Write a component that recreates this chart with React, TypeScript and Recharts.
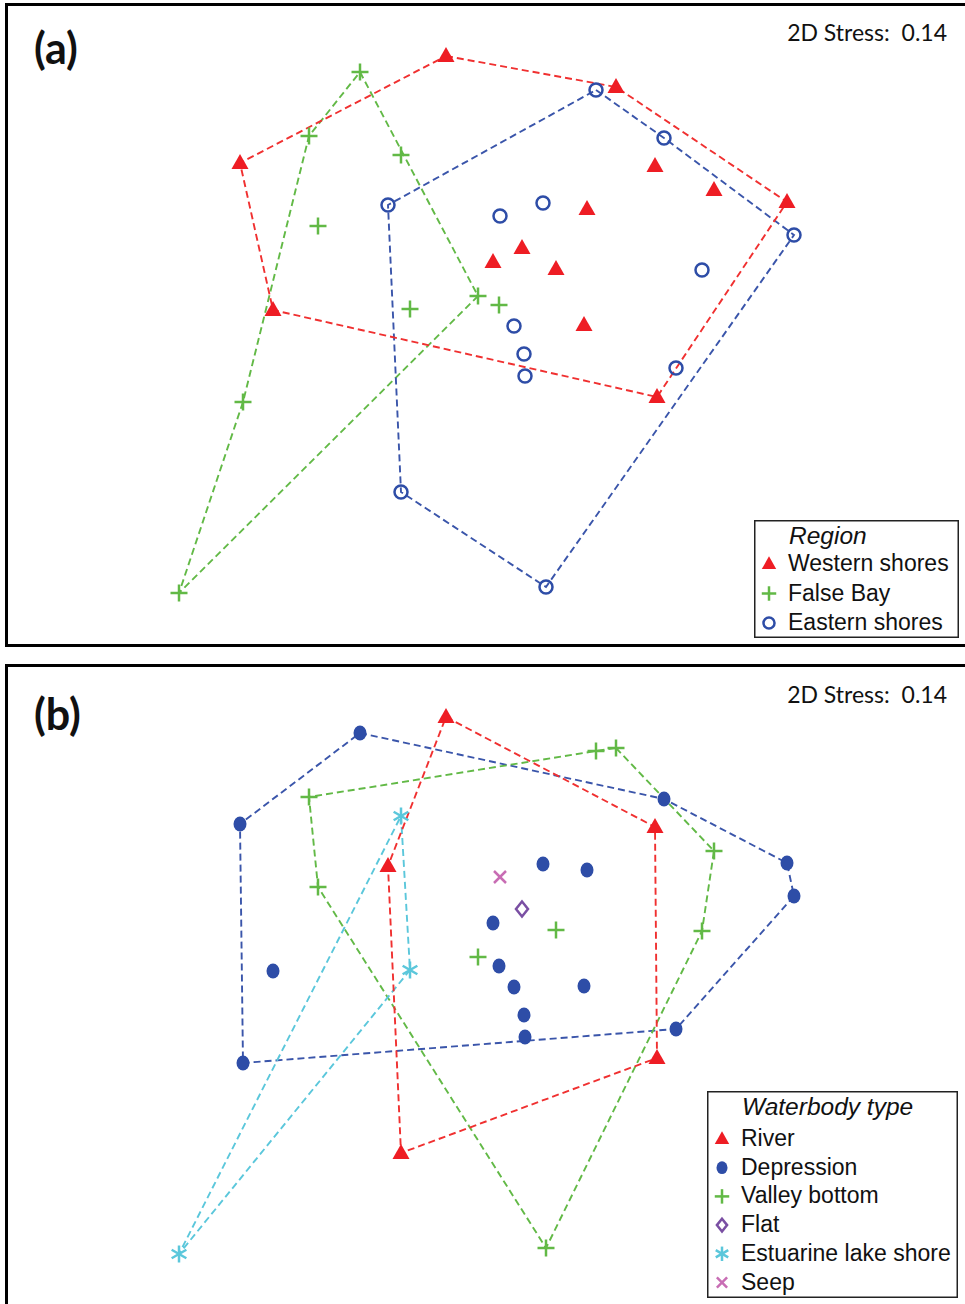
import React from 'react';
import { ScatterChart, Scatter, XAxis, YAxis, Legend } from 'recharts';

// NMDS coordinates of the 35 sites (shared by both panels)
const siteX = [
  -0.54, 1.16, -2.6, 2.87, 1.55, 2.14, 0.87, 0.22, -0.07, 0.56, -2.27, 0.84, 1.57,
  -1.4, -1.91, -0.99, -1.82, -0.22, -0.01, -0.9, -2.57, -3.21,
  0.96, 1.64, -1.12, 0.43, 0.0, 2.02, 2.94, 0.14, 0.24, 0.25, 1.76, -0.99, 0.46,
];
const siteY = [
  2.74, 2.43, 1.67, 1.28, 1.64, 1.4, 1.21, 0.82, 0.68, 0.61, 0.2, 0.05, -0.67,
  2.58, 1.94, 1.75, 1.04, 0.34, 0.25, 0.21, -0.72, -2.63,
  2.4, 1.92, 1.25, 1.27, 1.14, 0.6, 0.95, 0.04, -0.24, -0.46, -0.38, -1.62, -2.57,
];
const siteRegion = [
  'Western shores', 'Western shores', 'Western shores', 'Western shores', 'Western shores',
  'Western shores', 'Western shores', 'Western shores', 'Western shores', 'Western shores',
  'Western shores', 'Western shores', 'Western shores',
  'False Bay', 'False Bay', 'False Bay', 'False Bay', 'False Bay', 'False Bay', 'False Bay',
  'False Bay', 'False Bay',
  'Eastern shores', 'Eastern shores', 'Eastern shores', 'Eastern shores', 'Eastern shores',
  'Eastern shores', 'Eastern shores', 'Eastern shores', 'Eastern shores', 'Eastern shores',
  'Eastern shores', 'Eastern shores', 'Eastern shores',
];
const siteType = [
  'River', 'Valley bottom', 'Depression', 'Depression', 'River', 'Valley bottom', 'Depression',
  'Flat', 'Depression', 'Valley bottom', 'Depression', 'Depression', 'River',
  'Depression', 'Valley bottom', 'Estuarine lake shore', 'Valley bottom', 'Valley bottom',
  'Depression', 'Estuarine lake shore', 'Depression', 'Estuarine lake shore',
  'Valley bottom', 'Depression', 'River', 'Depression', 'Seep', 'Valley bottom', 'Depression',
  'Depression', 'Depression', 'Depression', 'Depression', 'River', 'Valley bottom',
];

const regionNames = ['Western shores', 'False Bay', 'Eastern shores'];
const typeNames = ['River', 'Depression', 'Valley bottom', 'Flat', 'Estuarine lake shore', 'Seep'];

// Hull outlines as site indices, in drawing order
const hullWestern = [0, 1, 3, 12, 10, 2];
const hullFalseBay = [13, 17, 21, 20, 14];
const hullEastern = [22, 23, 28, 34, 33, 24];
const hullRiver = [0, 4, 12, 33, 24];
const hullDepression = [13, 23, 3, 28, 32, 20, 2];
const hullValley = [1, 5, 27, 34, 16, 14, 22];
const hullEstuarine = [15, 19, 21];

const stressLabel = '2D Stress:  0.14';

// ---- styling ----
const RED = '#EE1D24';
const GREEN = '#62B946';
const BLUE = '#2E4DA7';
const CYAN = '#5BC7DB';
const PURPLE = '#7A4FA3';
const PINK = '#C86DB4';

const regionStyle: Record<string, { kind: string; color: string; line: string }> = {
  'Western shores': { kind: 'triangle', color: RED, line: '#F03030' },
  'False Bay': { kind: 'plus', color: GREEN, line: GREEN },
  'Eastern shores': { kind: 'circle', color: BLUE, line: '#3A55AA' },
};
const typeStyle: Record<string, { kind: string; color: string; line: string }> = {
  River: { kind: 'triangle', color: RED, line: '#F03030' },
  Depression: { kind: 'dot', color: BLUE, line: '#3A55AA' },
  'Valley bottom': { kind: 'plus', color: GREEN, line: GREEN },
  Flat: { kind: 'diamond', color: PURPLE, line: PURPLE },
  'Estuarine lake shore': { kind: 'asterisk', color: CYAN, line: CYAN },
  Seep: { kind: 'cross', color: PINK, line: PINK },
};

function Marker({ kind, cx, cy, color, s = 1 }: { kind: string; cx: number; cy: number; color: string; s?: number }) {
  const sw = 2.5;
  switch (kind) {
    case 'triangle':
      return (
        <polygon
          points={`${cx},${cy - 9 * s} ${cx - 8.5 * s},${cy + 6 * s} ${cx + 8.5 * s},${cy + 6 * s}`}
          fill={color}
        />
      );
    case 'plus':
      return (
        <g stroke={color} strokeWidth={sw}>
          <line x1={cx - 8.5 * s} y1={cy} x2={cx + 8.5 * s} y2={cy} />
          <line x1={cx} y1={cy - 8.5 * s} x2={cx} y2={cy + 8.5 * s} />
        </g>
      );
    case 'circle':
      return <circle cx={cx} cy={cy} r={6.5 * s} fill="none" stroke={color} strokeWidth={sw} />;
    case 'dot':
      return <ellipse cx={cx} cy={cy} rx={6.5 * s} ry={7.5 * s} fill={color} />;
    case 'diamond':
      return (
        <polygon
          points={`${cx},${cy - 7.5 * s} ${cx + 6 * s},${cy} ${cx},${cy + 7.5 * s} ${cx - 6 * s},${cy}`}
          fill="none"
          stroke={color}
          strokeWidth={sw}
        />
      );
    case 'asterisk': {
      const r = 8.5 * s;
      const dx = r * Math.cos(Math.PI / 6);
      const dy = r * Math.sin(Math.PI / 6);
      return (
        <g stroke={color} strokeWidth={sw}>
          <line x1={cx} y1={cy - r} x2={cx} y2={cy + r} />
          <line x1={cx - dx} y1={cy - dy} x2={cx + dx} y2={cy + dy} />
          <line x1={cx - dx} y1={cy + dy} x2={cx + dx} y2={cy - dy} />
        </g>
      );
    }
    case 'cross': {
      const r = 6 * s;
      return (
        <g stroke={color} strokeWidth={sw}>
          <line x1={cx - r} y1={cy - r} x2={cx + r} y2={cy + r} />
          <line x1={cx - r} y1={cy + r} x2={cx + r} y2={cy - r} />
        </g>
      );
    }
    default:
      return <g />;
  }
}

const pointsOf = (labels: string[], name: string) =>
  siteX.map((x, i) => ({ x, y: siteY[i], g: labels[i] })).filter((p) => p.g === name);
const hullPoints = (idx: number[]) =>
  [...idx, idx[0]].map((i) => ({ x: siteX[i], y: siteY[i] }));

const noShape = () => <g />;

function LegendBox({
  title, names, styles, width, height, firstBaseline, step,
}: {
  title: string; names: string[]; styles: Record<string, { kind: string; color: string }>;
  width: number; height: number; firstBaseline: number; step: number;
}) {
  return (
    <svg width={width} height={height} style={{ display: 'block', overflow: 'visible' }}>
      <rect x={0.75} y={0.75} width={width - 1.5} height={height - 1.5} fill="#fff" stroke="#222" strokeWidth={1.5} />
      <text x={35} y={24} fontFamily="Liberation Sans" fontStyle="italic" fontSize={24.5} fill="#111">
        {title}
      </text>
      {names.map((n, i) => {
        const base = firstBaseline + i * step;
        return (
          <g key={n}>
            <Marker kind={styles[n].kind} cx={15} cy={base - 7} color={styles[n].color} s={0.85} />
            <text x={34} y={base} fontFamily="Liberation Sans" fontSize={23} fill="#111">
              {n}
            </text>
          </g>
        );
      })}
    </svg>
  );
}

const X_DOMAIN: [number, number] = [-5, 4.65];

function Panel({
  top, height, yDomain, labels, names, styles, hulls, legend,
}: {
  top: number; height: number; yDomain: [number, number]; labels: string[]; names: string[];
  styles: Record<string, { kind: string; color: string; line: string }>;
  hulls: { name: string; idx: number[] }[];
  legend: { left: number; top: number; width: number; height: number; title: string; firstBaseline: number; step: number };
}) {
  return (
    <div style={{ position: 'absolute', left: 0, top, width: 965, height }}>
      <ScatterChart width={965} height={height} margin={{ top: 0, right: 0, bottom: 0, left: 0 }}>
        <XAxis type="number" dataKey="x" domain={X_DOMAIN} allowDataOverflow hide />
        <YAxis type="number" dataKey="y" domain={yDomain} allowDataOverflow hide />
        {hulls.map((h) => (
          <Scatter
            key={'hull-' + h.name}
            name={'hull-' + h.name}
            data={hullPoints(h.idx)}
            line={{ stroke: styles[h.name].line, strokeWidth: 1.9, strokeDasharray: '7 4' }}
            shape={noShape}
            legendType="none"
            isAnimationActive={false}
          />
        ))}
        {names.map((n) => (
          <Scatter
            key={n}
            name={n}
            data={pointsOf(labels, n)}
            fill={styles[n].color}
            isAnimationActive={false}
            shape={(p: any) => <Marker kind={styles[n].kind} cx={p.cx} cy={p.cy} color={styles[n].color} />}
          />
        ))}
        <Legend
          layout="vertical"
          align="center"
          verticalAlign="middle"
          wrapperStyle={{
            left: legend.left, top: legend.top, width: legend.width, height: legend.height, margin: 0, padding: 0,
          }}
          content={() => (
            <LegendBox
              title={legend.title}
              names={names}
              styles={styles}
              width={legend.width}
              height={legend.height}
              firstBaseline={legend.firstBaseline}
              step={legend.step}
            />
          )}
        />
      </ScatterChart>
    </div>
  );
}

export default function App() {
  return (
    <div style={{ position: 'absolute', left: 0, top: 0, width: 965, height: 1304, overflow: 'hidden', background: '#fff' }}>
      <div style={{ position: 'absolute', left: 5, top: 3, width: 963, height: 638, border: '3px solid #000' }} />
      <div style={{ position: 'absolute', left: 5, top: 664, width: 963, height: 700, border: '3px solid #000' }} />
      <Panel
        top={0}
        height={650}
        yDomain={[-3.2, 3.3]}
        labels={siteRegion}
        names={regionNames}
        styles={regionStyle}
        hulls={[
          { name: 'False Bay', idx: hullFalseBay },
          { name: 'Eastern shores', idx: hullEastern },
          { name: 'Western shores', idx: hullWestern },
        ]}
        legend={{ left: 754, top: 520, width: 205, height: 118, title: 'Region', firstBaseline: 51, step: 29.5 }}
      />
      <Panel
        top={661}
        height={643}
        yDomain={[-3.13, 3.3]}
        labels={siteType}
        names={typeNames}
        styles={typeStyle}
        hulls={[
          { name: 'Depression', idx: hullDepression },
          { name: 'Valley bottom', idx: hullValley },
          { name: 'Estuarine lake shore', idx: hullEstuarine },
          { name: 'River', idx: hullRiver },
        ]}
        legend={{ left: 707, top: 430, width: 251, height: 207, title: 'Waterbody type', firstBaseline: 55, step: 28.7 }}
      />
      <svg width={965} height={1304} style={{ position: 'absolute', left: 0, top: 0, pointerEvents: 'none' }}>
        <text x={34} y={64} fontFamily="Lato" fontWeight={700} fontSize={43} fill="#111">(a)</text>
        <text x={34} y={730} fontFamily="Lato" fontWeight={700} fontSize={43} fill="#111">(b)</text>
        <text x={947} y={41} textAnchor="end" fontFamily="Lato" fontSize={23} fill="#111" style={{ whiteSpace: 'pre' }}>
          {stressLabel}
        </text>
        <text x={947} y={703} textAnchor="end" fontFamily="Lato" fontSize={23} fill="#111" style={{ whiteSpace: 'pre' }}>
          {stressLabel}
        </text>
      </svg>
    </div>
  );
}
